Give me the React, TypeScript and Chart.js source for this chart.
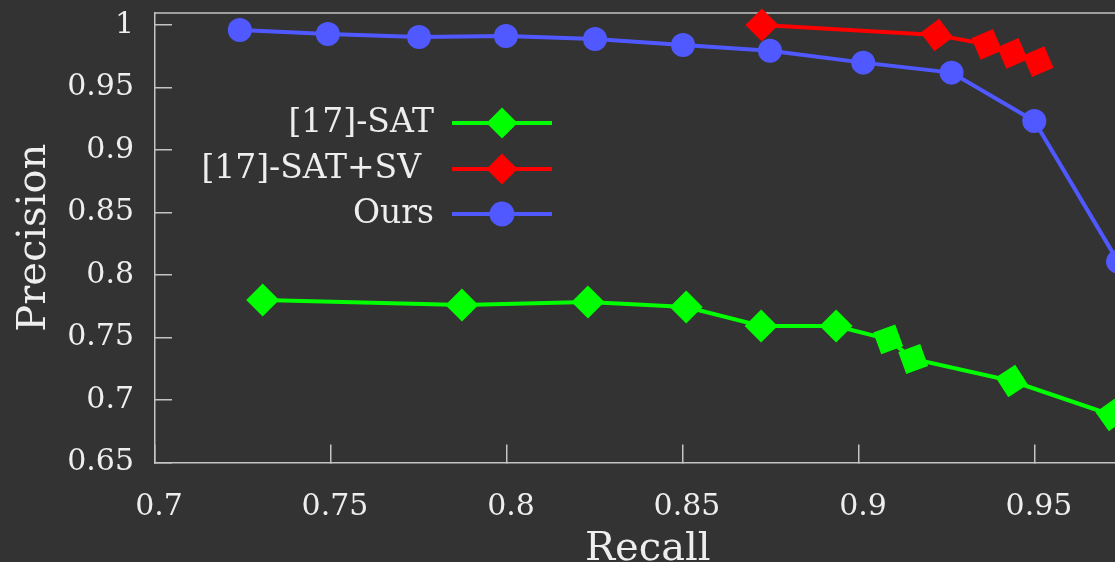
import React, { useEffect, useRef } from 'react';
import { Chart, registerables } from 'chart.js';

Chart.register(...registerables);

// ---- data ----
const seriesLabels = ['[17]-SAT', '[17]-SAT+SV', 'Ours'];

const satRecall = [0.7306, 0.7872, 0.823, 0.8509, 0.8722, 0.8935, 0.9083, 0.9154, 0.9434, 0.9718];
const satPrecision = [0.78, 0.776, 0.7784, 0.7744, 0.7592, 0.7592, 0.7485, 0.7328, 0.7152, 0.688];

const svRecall = [0.8724, 0.9221, 0.9363, 0.9436, 0.9509];
const svPrecision = [1.0, 0.992, 0.9845, 0.9773, 0.9707];

const oursRecall = [0.7241, 0.7491, 0.775, 0.7997, 0.825, 0.85, 0.8747, 0.9012, 0.9263, 0.9498, 0.9736];
const oursPrecision = [0.996, 0.9928, 0.9904, 0.9912, 0.9888, 0.984, 0.9794, 0.9699, 0.9619, 0.9232, 0.8107];

const xTickValues = [0.7, 0.75, 0.8, 0.85, 0.9, 0.95];
const yTickValues = [0.65, 0.7, 0.75, 0.8, 0.85, 0.9, 0.95, 1];

// ---- styles ----
const satRotation = [0, 0, 0, 0, 0, 0, 25, 25, 12, 10];
const svRotation = [0, 8, 22, 22, 22];

const BG = '#333333';
const FG = '#eeeeee';
const AXIS = '#c4c4c4';
const FONT = "'DejaVu Serif', serif";
const GREEN = '#00ff00';
const RED = '#ff0000';
const BLUE = '#5059ff';

const W = 1160;
const H = 562;
const PLOT_LEFT = 155;
const PLOT_TOP = 13;
const PLOT_BOTTOM = 462.5;
const PLOT_RIGHT = 1140.6;

const zip = (xs: number[], ys: number[]) => xs.map((x, i) => ({ x, y: ys[i] }));

const topBorderPlugin = {
  id: 'topBorder',
  beforeDatasetsDraw(chart: any) {
    const { ctx, chartArea } = chart;
    ctx.save();
    ctx.strokeStyle = AXIS;
    ctx.lineWidth = 1.5;
    ctx.beginPath();
    ctx.moveTo(chartArea.left, chartArea.top);
    ctx.lineTo(chartArea.right, chartArea.top);
    ctx.stroke();
    ctx.restore();
  },
};

const legendPlugin = {
  id: 'customLegend',
  afterDraw(chart: any) {
    const { ctx } = chart;
    const textRight = [434, 421, 434];
    const lineX0 = 452;
    const lineX1 = 552;
    const rows = [123, 169, 214];
    ctx.save();
    chart.data.datasets.forEach((ds: any, i: number) => {
      const y = rows[i];
      ctx.font = `33px ${FONT}`;
      ctx.fillStyle = FG;
      ctx.textAlign = 'right';
      ctx.textBaseline = 'middle';
      ctx.fillText(ds.label, textRight[i], y);
      ctx.strokeStyle = ds.borderColor;
      ctx.lineWidth = 4;
      ctx.beginPath();
      ctx.moveTo(lineX0, y);
      ctx.lineTo(lineX1, y);
      ctx.stroke();
      ctx.fillStyle = ds.backgroundColor;
      ctx.beginPath();
      const cx = (lineX0 + lineX1) / 2;
      if (ds.pointStyle === 'circle') {
        ctx.arc(cx, y, 12.5, 0, Math.PI * 2);
      } else {
        const r = 15.5;
        ctx.moveTo(cx, y - r);
        ctx.lineTo(cx + r, y);
        ctx.lineTo(cx, y + r);
        ctx.lineTo(cx - r, y);
        ctx.closePath();
      }
      ctx.fill();
    });
    ctx.restore();
  },
};

export default function App() {
  const ref = useRef<HTMLCanvasElement | null>(null);

  useEffect(() => {
    if (!ref.current) return;
    const chart = new Chart(ref.current, {
      type: 'scatter',
      data: {
        datasets: [
          {
            label: seriesLabels[0],
            data: zip(satRecall, satPrecision),
            showLine: true,
            borderColor: GREEN,
            backgroundColor: GREEN,
            borderWidth: 4,
            pointStyle: 'rectRot',
            pointRadius: 16.5,
            pointBorderWidth: 0,
            pointRotation: satRotation,
            clip: false,
          } as any,
          {
            label: seriesLabels[1],
            data: zip(svRecall, svPrecision),
            showLine: true,
            borderColor: RED,
            backgroundColor: RED,
            borderWidth: 4,
            pointStyle: 'rectRot',
            pointRadius: 16.5,
            pointBorderWidth: 0,
            pointRotation: svRotation,
            clip: false,
          } as any,
          {
            label: seriesLabels[2],
            data: zip(oursRecall, oursPrecision),
            showLine: true,
            borderColor: BLUE,
            backgroundColor: BLUE,
            borderWidth: 4,
            pointStyle: 'circle',
            pointRadius: 12,
            pointBorderWidth: 0,
            clip: false,
          } as any,
        ],
      },
      options: {
        responsive: false,
        animation: false,
        events: [],
        layout: {
          autoPadding: false,
          padding: { left: 0, right: W - PLOT_RIGHT, top: PLOT_TOP, bottom: 0 },
        },
        plugins: {
          legend: { display: false },
          tooltip: { enabled: false },
        },
        scales: {
          x: {
            type: 'linear',
            min: 0.7,
            max: 0.98,
            afterBuildTicks: (s: any) => {
              s.ticks = xTickValues.map((v) => ({ value: v }));
            },
            afterFit: (s: any) => {
              s.height = H - PLOT_BOTTOM;
              s.paddingLeft = 0;
              s.paddingRight = 0;
              s.paddingTop = 0;
              s.paddingBottom = 0;
            },
            grid: {
              display: true,
              drawOnChartArea: false,
              drawTicks: true,
              tickLength: -18,
              color: AXIS,
              lineWidth: 1.5,
            },
            border: { display: true, color: AXIS, width: 1.5 },
            ticks: {
              color: FG,
              font: { family: FONT, size: 30 },
              padding: 45,
              labelOffset: 4,
              maxRotation: 0,
              autoSkip: false,
              callback: (v: any) => String(v),
            },
            title: {
              display: true,
              text: 'Recall',
              color: FG,
              font: { family: FONT, size: 40, lineHeight: 0.6 },
              padding: { top: 0, bottom: 0 },
            },
          },
          y: {
            type: 'linear',
            min: 0.65,
            max: 1.0096,
            afterBuildTicks: (s: any) => {
              s.ticks = yTickValues.map((v) => ({ value: v }));
            },
            afterFit: (s: any) => {
              s.width = PLOT_LEFT;
              s.paddingLeft = 0;
              s.paddingRight = 0;
              s.paddingTop = 0;
              s.paddingBottom = 0;
            },
            grid: {
              display: true,
              drawOnChartArea: false,
              drawTicks: true,
              tickLength: -17,
              color: AXIS,
              lineWidth: 1.5,
            },
            border: { display: true, color: AXIS, width: 1.5 },
            ticks: {
              color: FG,
              font: { family: FONT, size: 30 },
              padding: 21 + 17,
              autoSkip: false,
              callback: (v: any) => String(v),
            },
            title: {
              display: true,
              text: 'Precision',
              color: FG,
              font: { family: FONT, size: 40 },
              padding: { top: 11, bottom: 0 },
            },
          },
        },
      },
      plugins: [topBorderPlugin, legendPlugin],
    });
    return () => chart.destroy();
  }, []);

  return (
    <div
      style={{
        position: 'fixed',
        left: 0,
        top: 0,
        width: 1115,
        height: H,
        overflow: 'hidden',
        background: BG,
      }}
    >
      <canvas ref={ref} width={W} height={H} style={{ display: 'block' }} />
    </div>
  );
}
